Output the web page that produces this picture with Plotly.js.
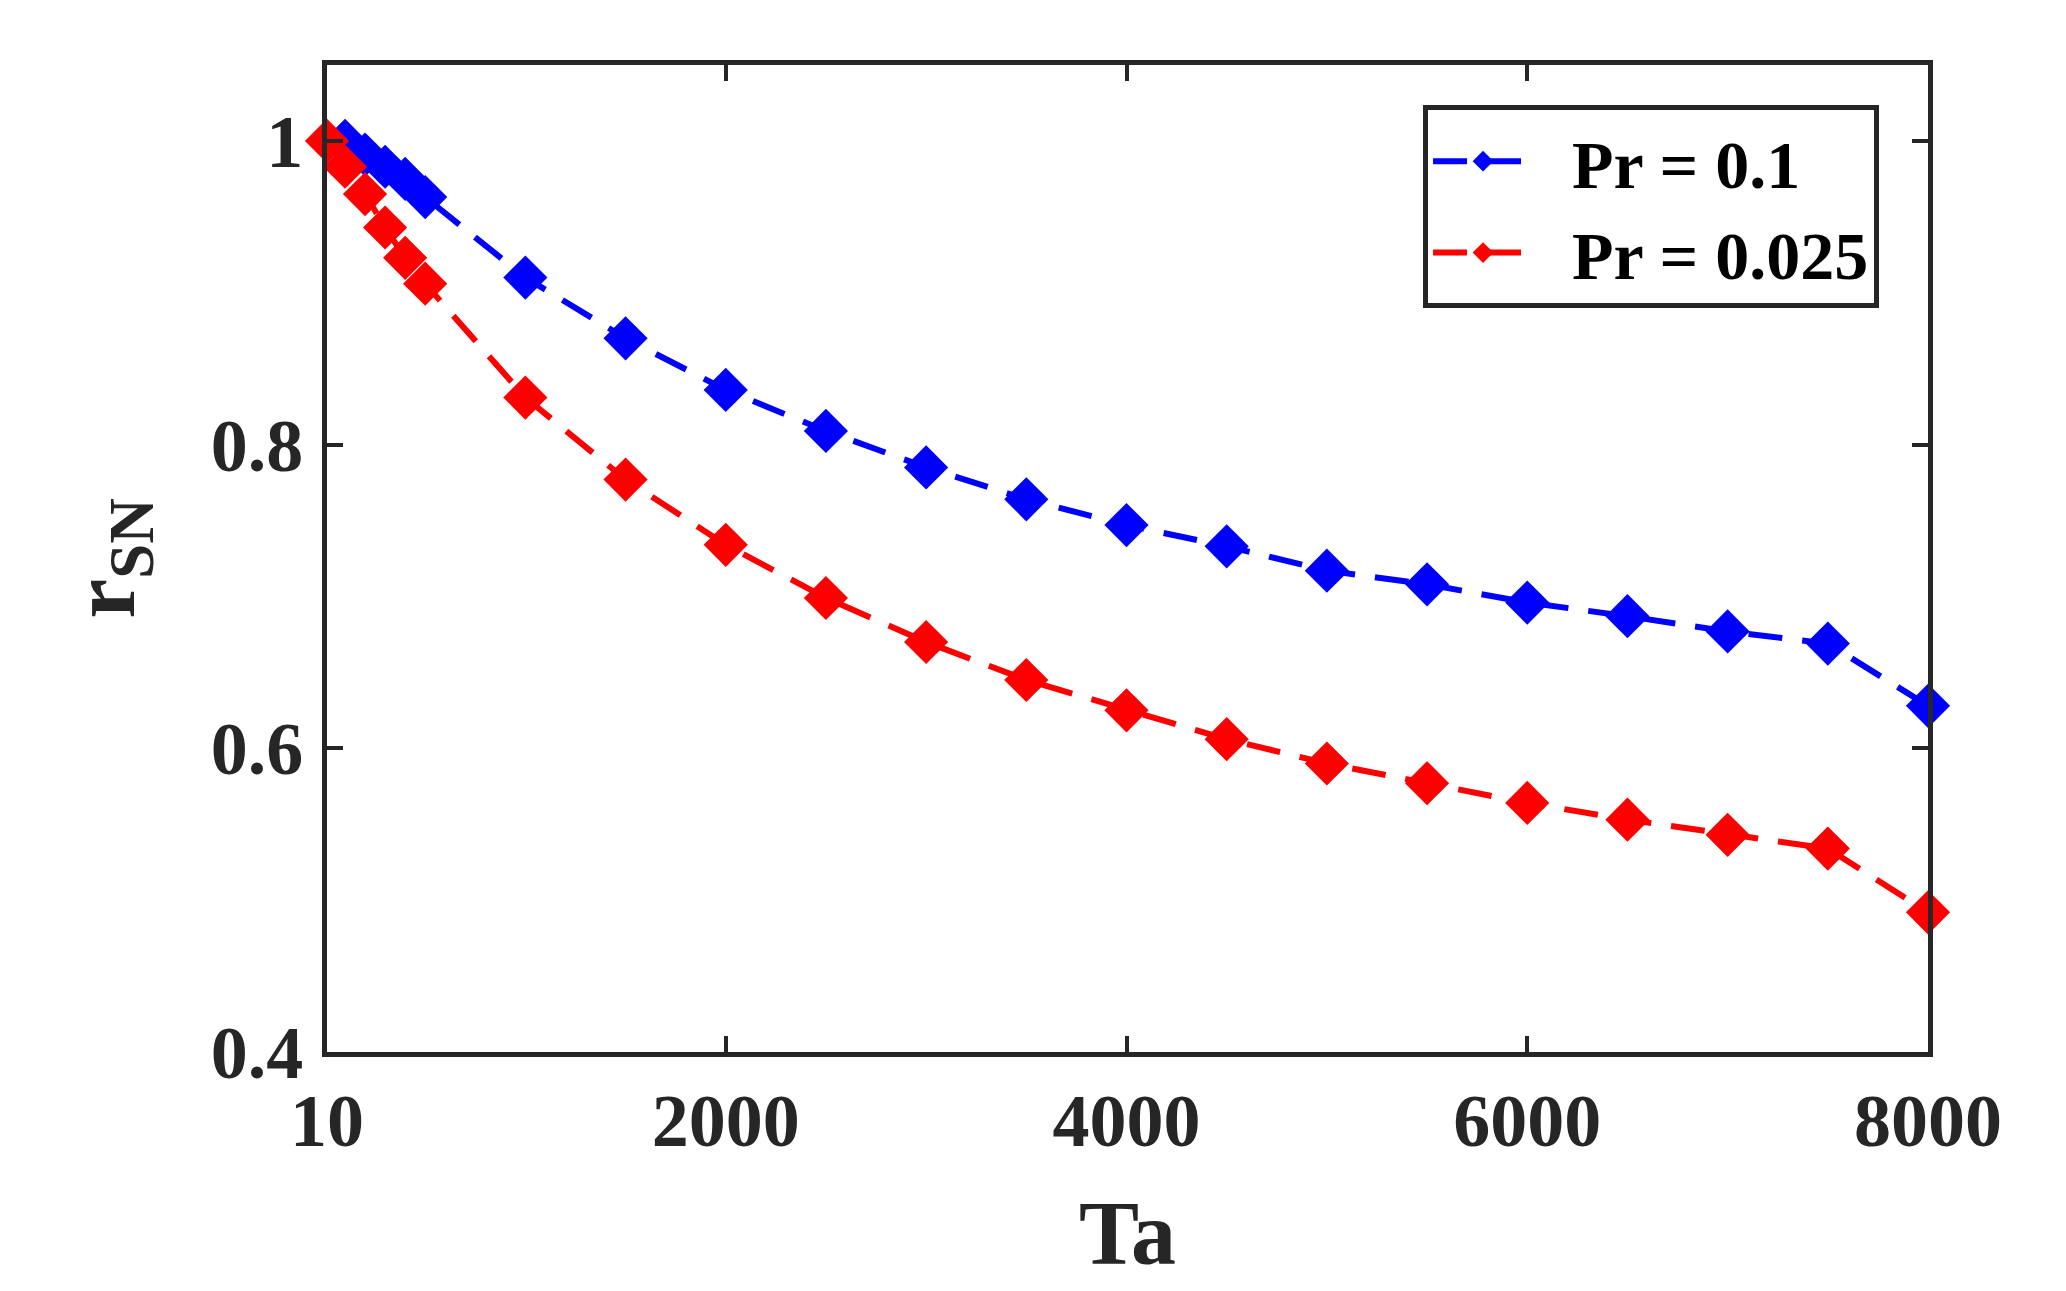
<!DOCTYPE html>
<html>
<head>
<meta charset="utf-8">
<script src="https://cdn.plot.ly/plotly-3.0.1.min.js"></script>
<style>
  body { margin: 0; background: #fff; }
  #plot { width: 2066px; height: 1291px; }
</style>
</head>
<body>
<div id="plot"></div>
<script>
// Ta values for each series
var taBlue = [100, 200, 300, 400, 500, 1000, 1500, 2000, 2500, 3000, 3500, 4000,
              4500, 5000, 5500, 6000, 6500, 7000, 7500, 8000];
var rBlue = [1.0, 0.991, 0.983, 0.975, 0.963, 0.910, 0.870, 0.836, 0.809, 0.785, 0.764,
             0.747, 0.733, 0.717, 0.708, 0.696, 0.687, 0.677, 0.669, 0.628];

var taRed = [10, 100, 200, 300, 400, 500, 1000, 1500, 2000, 2500, 3000, 3500, 4000,
             4500, 5000, 5500, 6000, 6500, 7000, 7500, 8000];
var rRed = [1.0, 0.983, 0.965, 0.943, 0.923, 0.906, 0.831, 0.777, 0.734, 0.699, 0.670,
            0.645, 0.625, 0.606, 0.590, 0.577, 0.564, 0.553, 0.543, 0.534, 0.492];

var xTicks = [10, 2000, 4000, 6000, 8000];
var yTicks = [0.4, 0.6, 0.8, 1];
var yTickText = ['0.4', '0.6', '0.8', '1'];

var axisColor = '#262626';
var serif = 'Liberation Serif, Times New Roman, serif';

function series(x, y, name, color) {
    return {
        type: 'scatter',
        mode: 'lines+markers',
        name: name,
        x: x,
        y: y,
        cliponaxis: false,
        line: { color: color, width: 6, dash: '34px,20px' },
        marker: { symbol: 'diamond', size: 34, color: color }
    };
}

var plotData = [
    series(taBlue, rBlue, '\u00a0\u00a0<b>Pr = 0.1</b>', '#0000ff'),
    series(taRed, rRed, '\u00a0\u00a0<b>Pr = 0.025</b>', '#ff0000')
];

var axisCommon = {
    showline: true,
    linecolor: axisColor,
    linewidth: 5,
    mirror: 'ticks',
    ticks: 'inside',
    ticklen: 16,
    tickwidth: 4,
    tickcolor: axisColor,
    showgrid: false,
    zeroline: false,
    tickfont: { family: serif, size: 74, color: axisColor, weight: 'bold' }
};

var layout = {
    width: 2066,
    height: 1291,
    margin: { l: 327, r: 138, t: 65, b: 239 },
    paper_bgcolor: '#ffffff',
    plot_bgcolor: '#ffffff',
    showlegend: true,
    xaxis: Object.assign({}, axisCommon, {
        range: [10, 8000],
        tickvals: xTicks,
        ticklabelstandoff: 0,
        title: { text: '<b>Ta</b>', font: { family: serif, size: 90, color: axisColor }, standoff: 42 }
    }),
    yaxis: Object.assign({}, axisCommon, {
        range: [0.4, 1.05],
        tickvals: yTicks,
        ticktext: yTickText,
        ticklabelstandoff: 4,
        title: { text: '<b>r<sub>SN</sub></b>', font: { family: serif, size: 90, color: axisColor }, standoff: 48 }
    }),
    legend: {
        x: 0.6846,
        y: 0.959,
        xanchor: 'left',
        yanchor: 'top',
        bgcolor: '#ffffff',
        bordercolor: axisColor,
        borderwidth: 5,
        itemwidth: 100,
        tracegroupgap: 0,
        font: { family: serif, size: 68, color: '#000000' }
    }
};

Plotly.newPlot('plot', plotData, layout, { displayModeBar: false });
</script>
</body>
</html>
